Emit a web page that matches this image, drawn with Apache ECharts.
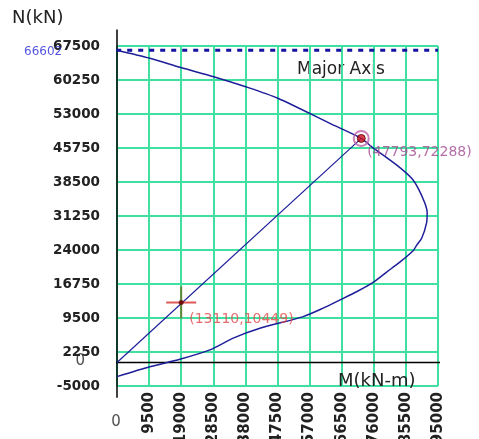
<!DOCTYPE html>
<html><head><meta charset="utf-8">
<script src="https://cdn.jsdelivr.net/npm/echarts@6/dist/echarts.min.js"></script>
<style>html,body{margin:0;padding:0;background:#fff}#c{width:479px;height:439px}</style>
</head><body><div id="c"></div>
<script>
// Interaction curve (M in kN-m, N in kN)
const curveM = [0, 9700, 18900, 28600, 38100, 47600, 63000, 72288, 75400, 82800, 87200, 89100, 91100, 91800, 91600, 90200, 88700, 87700, 83700, 79800, 75800, 70900, 66000, 61000, 55100, 42300, 34400, 27500, 18600, 9700, 0];
const curveN = [66602, 64900, 62900, 60950, 58800, 56350, 51000, 47793, 46000, 42100, 39300, 37200, 34000, 31900, 29750, 26550, 25050, 23900, 21400, 19300, 17100, 15100, 13350, 11600, 9800, 7300, 5200, 2700, 700, -900, -3000];
// Load line from origin through capacity point
const loadM = [0, 72288];
const loadN = [0, 47793];
// Capacity point and design point
const capPoint = [72288, 47793];
const capLabel = '(47793,72288)';
const designPoint = [19000, 12800];
const designLabel = '(13110,10449)';
// Max axial line
const maxAxial = 66602;
const maxAxialLabel = '66602';
// Axis ticks
const xMin = 0, xMax = 95000, xStep = 9500;
const yMin = -5000, yMax = 67500, yStep = 7250;
const xTitle = 'M(kN-m)', yTitle = 'N(kN)', chartNote = 'Major Axis';

const zip = (a, b) => a.map((v, i) => [v, b[i]]);
const FONT = 'DejaVu Sans';
const chart = echarts.init(document.getElementById('c'), null, {renderer: 'canvas'});

function textPoint(pos, text, color, size, position, distance, offset, weight) {
  return {
    type: 'scatter', clip: false, silent: true, symbolSize: 0, z: 10,
    data: [pos],
    label: {show: true, formatter: text, position, distance, offset: offset || [0, 0],
      color, fontSize: size, fontFamily: FONT, fontWeight: weight || 'normal'}
  };
}

chart.setOption({
  animation: false,
  backgroundColor: '#fff',
  grid: {left: 117, right: 41, top: 46, bottom: 53, containLabel: false, outerBoundsMode: 'none'},
  xAxis: {
    type: 'value', min: xMin, max: xMax, interval: xStep,
    axisLine: {show: false, onZero: false}, axisTick: {show: false},
    splitLine: {show: true, lineStyle: {color: '#40e0a0', width: 2}},
    axisLabel: {rotate: 90, margin: 6, color: '#222', fontSize: 15, fontWeight: 'bold', fontFamily: FONT,
      formatter: v => v === 0 ? '' : String(v)}
  },
  yAxis: {
    type: 'value', min: yMin, max: yMax, interval: yStep,
    axisLine: {show: false, onZero: false}, axisTick: {show: false},
    splitLine: {show: true, lineStyle: {color: '#40e0a0', width: 2}},
    axisLabel: {margin: 17, color: '#222', fontSize: 13.5, fontWeight: 'bold', fontFamily: FONT,
      formatter: v => String(v)}
  },
  graphic: [
    {type: 'text', left: 12, top: 9, style: {text: yTitle, font: '18px "DejaVu Sans"', fill: '#222'}},
    {type: 'text', left: 338, top: 372, style: {text: xTitle, font: '18px "DejaVu Sans"', fill: '#222'}, z: 20},
    {type: 'text', left: 297, top: 61, style: {text: chartNote, font: '17px "DejaVu Sans"', fill: '#222'}}
  ],
  series: [
    // zero axis line (x) and y axis line, extended past grid
    {type: 'line', clip: false, silent: true, symbol: 'none', z: 3,
      data: [[-5000, 0], [99000, 0]], lineStyle: {color: '#000', width: 1.5}},
    {type: 'line', clip: false, silent: true, symbol: 'none', z: 3,
      data: [[0, 71000], [0, -7500]], lineStyle: {color: '#000', width: 1.5}},
    // max axial dotted line
    {type: 'line', clip: false, silent: true, symbol: 'none', z: 4,
      data: [[-10000, maxAxial], [xMax, maxAxial]],
      lineStyle: {color: '#1414a0', width: 3, type: [5, 6]}},
    // interaction curve
    {type: 'line', silent: true, symbol: 'none', z: 5, smooth: 0.25,
      data: zip(curveM, curveN), lineStyle: {color: '#1e1e9a', width: 1.5}},
    // load line
    {type: 'line', silent: true, symbol: 'none', z: 5,
      data: zip(loadM, loadN), lineStyle: {color: '#1e1e9a', width: 1.2}},
    // capacity point ring + dot
    {type: 'scatter', silent: true, z: 6, symbol: 'circle', symbolSize: 15, data: [capPoint],
      itemStyle: {color: 'rgba(0,0,0,0)', borderColor: '#c060a8', borderWidth: 2}},
    {type: 'scatter', silent: true, z: 7, symbol: 'circle', symbolSize: 8, data: [capPoint],
      itemStyle: {color: '#cc1020', borderColor: '#500', borderWidth: 1}},
    // design point cross
    {type: 'scatter', silent: true, z: 6, symbol: 'rect', symbolSize: [2, 32], data: [designPoint],
      itemStyle: {color: '#6b6b1a'}},
    {type: 'scatter', silent: true, z: 7, symbol: 'rect', symbolSize: [30, 2], data: [designPoint],
      itemStyle: {color: '#d83030'}},
    {type: 'scatter', silent: true, z: 8, symbol: 'circle', symbolSize: 5, data: [designPoint],
      itemStyle: {color: '#600'}},
    // text labels
    textPoint(capPoint, capLabel, '#a04890', 14, 'right', 6, [0, 14]),
    textPoint(designPoint, designLabel, '#e04848', 14, 'right', 8, [0, 17]),
    textPoint([-10000, maxAxial], maxAxialLabel, '#2a2ad8', 12, 'left', 21, [0, 2]),
    textPoint([0, 0], '0', '#222', 15, 'left', 32, [0, -1]),
    textPoint([0, yMin], '0', '#222', 15, 'bottom', 29, [-1, 0])
  ]
});
</script></body></html>
